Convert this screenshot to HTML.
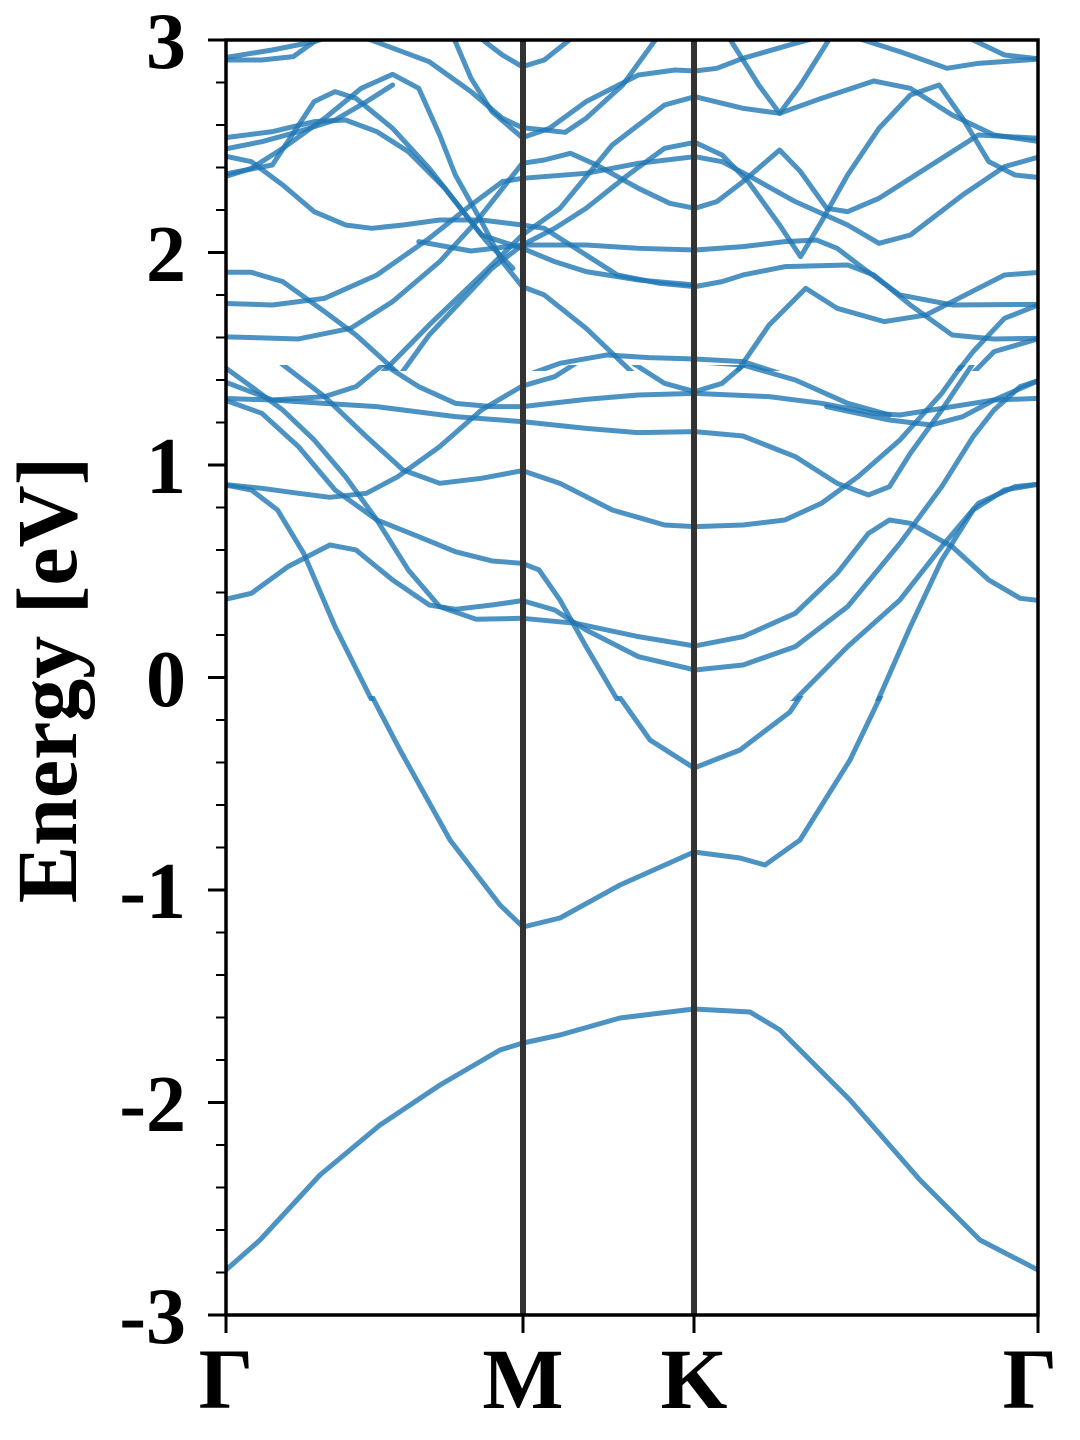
<!DOCTYPE html>
<html><head><meta charset="utf-8"><style>
html,body{margin:0;padding:0;background:#fff;}
svg{display:block;}
.t{font-family:"Liberation Serif","Times New Roman",Times,serif;font-weight:bold;fill:#000;}
polyline{stroke-width:5px;}
</style></head><body>
<svg width="1080" height="1440" viewBox="0 0 1080 1440" xmlns="http://www.w3.org/2000/svg">
<defs>
<clipPath id="c1" clipPathUnits="userSpaceOnUse"><rect x="226" y="40" width="812" height="331"/></clipPath>
<clipPath id="c2" clipPathUnits="userSpaceOnUse"><rect x="226" y="365" width="812" height="336"/></clipPath>
<clipPath id="c3" clipPathUnits="userSpaceOnUse"><rect x="226" y="696" width="812" height="619"/></clipPath>
</defs>
<g fill="none" stroke="#1f77b4" stroke-opacity="0.8" stroke-linejoin="round" stroke-linecap="round">
<g clip-path="url(#c1)">
<g transform="translate(220,35) scale(0.523,0.3333)">
<polyline vector-effect="non-scaling-stroke" points="0,75 80,75 140,65 180,20 200,0"/>
<polyline vector-effect="non-scaling-stroke" points="0,70 100,45 180,20 220,0"/>
<polyline vector-effect="non-scaling-stroke" points="280,10 400,80 480,170 540,250 578,278 620,285 660,292 700,250 770,150 830,20 840,0"/>
<polyline vector-effect="non-scaling-stroke" points="440,0 450,20 480,130 520,230 578,308 630,280 700,200 800,120 870,105 908,108 950,100 1000,70 1100,25 1160,0"/>
<polyline vector-effect="non-scaling-stroke" points="490,0 540,60 578,95 620,75 680,0"/>
<polyline vector-effect="non-scaling-stroke" points="1420,0 1500,60 1568,72"/>
<polyline vector-effect="non-scaling-stroke" points="1200,0 1300,50 1390,100 1450,85 1568,72"/>
<polyline vector-effect="non-scaling-stroke" points="970,0 1030,150 1070,235 1110,150 1170,0"/>
<polyline vector-effect="non-scaling-stroke" points="0,805 100,810 200,790 300,720 400,610 480,510 540,440 578,430 700,415 800,385 908,365 960,380 1020,430 1100,500 1200,570 1260,625 1320,600 1420,480 1500,395 1568,365"/>
<polyline vector-effect="non-scaling-stroke" points="0,905 150,912 250,880 330,800 420,680 490,560 578,385 620,375 670,355 720,390 800,460 860,505 908,520 950,500 1000,440 1070,345 1110,410 1160,520 1200,530 1260,490 1330,420 1450,300 1568,310"/>
<polyline vector-effect="non-scaling-stroke" points="300,1030 400,870 500,720 578,600 650,520 750,330 850,210 908,185 1000,220 1070,235 1150,190 1250,138 1320,160 1400,240 1480,300 1568,320"/>
<polyline vector-effect="non-scaling-stroke" points="908,322 960,360 1010,440 1070,570 1110,665 1150,560 1200,420 1260,280 1320,180 1375,150 1420,250 1470,380 1520,420 1568,428"/>
<polyline vector-effect="non-scaling-stroke" points="908,322 850,340 780,420 700,520 640,580 578,630 520,700 460,800 400,900 340,1030"/>
<polyline vector-effect="non-scaling-stroke" points="0,360 60,380 120,450 180,530 240,570 290,580 350,570 420,555 500,555 578,570 620,580 700,660 760,720 840,745 908,755 960,740 1000,720 1080,695 1200,690 1250,720 1320,810 1400,900 1480,912 1568,910"/>
<polyline vector-effect="non-scaling-stroke" points="380,620 480,648 578,630 700,630 800,640 908,645 1000,635 1080,620 1140,615 1180,640 1230,700 1300,780 1400,810 1568,808"/>
<polyline vector-effect="non-scaling-stroke" points="0,420 100,390 180,200 220,170 260,190 330,280 400,400 450,500 500,600 578,640 640,680 700,710 800,735 908,750"/>
<polyline vector-effect="non-scaling-stroke" points="0,430 60,400 120,340 200,250 270,160 330,118 380,160 420,300 450,420 500,560 540,680 578,755 620,780 700,880 780,1000 800,1030"/>
<polyline vector-effect="non-scaling-stroke" points="0,310 100,290 180,260 240,255 300,290 360,350 430,460 470,540 510,620 560,700"/>
<polyline vector-effect="non-scaling-stroke" points="0,345 80,320 150,290 220,255 280,200 330,150"/>
<polyline vector-effect="non-scaling-stroke" points="0,712 60,712 120,740 200,830 260,900 330,1000 350,1030"/>
<polyline vector-effect="non-scaling-stroke" points="980,1030 1050,870 1120,760 1180,820 1270,860 1350,840 1450,760 1500,720 1568,712"/>
<polyline vector-effect="non-scaling-stroke" points="570,1030 650,985 740,960 820,968 908,972 1000,980 1100,1030"/>
<polyline vector-effect="non-scaling-stroke" points="1568,808 1500,850 1440,950 1400,1030"/>
<polyline vector-effect="non-scaling-stroke" points="1568,910 1480,950 1430,1030"/>
</g>
</g>
<g clip-path="url(#c2)">
<g transform="translate(220,360) scale(0.523,0.3333)">
<polyline vector-effect="non-scaling-stroke" points="0,722 60,700 130,620 210,555 260,570 330,660 400,735 450,748 520,735 578,722 640,750 700,810 800,890 908,930 1000,915 1100,860 1200,740 1300,550 1380,380 1440,230 1480,150 1530,80 1568,60"/>
<polyline vector-effect="non-scaling-stroke" points="-10,0 60,80 120,150 180,240 240,350 300,480 360,630 420,740 490,778 578,775 680,790 800,830 908,858 1000,830 1100,760 1180,640 1240,520 1280,480 1320,490 1400,560 1470,660 1530,715 1568,722"/>
<polyline vector-effect="non-scaling-stroke" points="0,372 80,385 150,400 210,412 280,400 340,350 420,260 500,150 578,78 640,50 700,-10"/>
<polyline vector-effect="non-scaling-stroke" points="0,372 60,390 110,450 160,580 220,800 290,1020 300,1050"/>
<polyline vector-effect="non-scaling-stroke" points="0,115 80,160 150,260 220,390 300,480 380,530 450,575 520,603 578,610 610,630 650,720 700,860 760,1020 770,1050"/>
<polyline vector-effect="non-scaling-stroke" points="0,115 100,120 200,110 260,80 330,-10"/>
<polyline vector-effect="non-scaling-stroke" points="100,-10 200,110 280,230 350,330 420,370 500,355 578,332 650,370 750,450 850,495 908,500 1000,495 1080,480 1150,430 1220,350 1300,240 1380,100 1430,-10"/>
<polyline vector-effect="non-scaling-stroke" points="0,60 100,120 200,130 300,140 450,170 578,185 700,205 800,218 908,215 1000,228 1100,290 1180,370 1240,405 1280,380 1320,280 1380,150 1440,10 1450,-10"/>
<polyline vector-effect="non-scaling-stroke" points="290,-10 380,80 450,130 520,140 578,140 700,118 800,105 908,100 1050,110 1150,130 1250,160 1300,165 1400,140 1480,120 1568,115"/>
<polyline vector-effect="non-scaling-stroke" points="1160,140 1280,180 1360,195 1420,170 1480,120 1568,60"/>
<polyline vector-effect="non-scaling-stroke" points="770,-10 850,70 908,95 960,70 1020,-10"/>
<polyline vector-effect="non-scaling-stroke" points="810,-5 908,5 1000,15 1100,60 1200,130 1280,165"/>
<polyline vector-effect="non-scaling-stroke" points="1080,1050 1200,860 1300,720 1380,560 1450,430 1520,380 1568,372"/>
<polyline vector-effect="non-scaling-stroke" points="1250,1050 1320,800 1380,600 1440,450 1500,390 1568,372"/>
</g>
</g>
<g clip-path="url(#c3)">
<polyline points="366,685 400,750 450,840 500,905 523,927 560,918 620,885 694,852 740,858 765,865 800,840 850,760 886,685"/>
<polyline points="611,685 650,740 694,768 740,750 790,712 808,685"/>
<polyline points="226,1270 260,1240 320,1175 380,1125 440,1085 500,1050 523,1043 560,1035 620,1018 694,1009 750,1012 780,1030 850,1100 920,1180 980,1240 1038,1270"/>
</g>
</g>
<line x1="523" y1="40" x2="523" y2="1315" stroke="#333" stroke-width="6"/>
<line x1="694" y1="40" x2="694" y2="1315" stroke="#333" stroke-width="6"/>
<rect x="226" y="40" width="812" height="1275" fill="none" stroke="#000" stroke-width="3.5"/>
<g stroke="#000" stroke-width="3">
<line x1="208" y1="40" x2="226" y2="40"/><line x1="208" y1="252.5" x2="226" y2="252.5"/><line x1="208" y1="465" x2="226" y2="465"/><line x1="208" y1="677.5" x2="226" y2="677.5"/><line x1="208" y1="890" x2="226" y2="890"/><line x1="208" y1="1102.5" x2="226" y2="1102.5"/><line x1="208" y1="1315" x2="226" y2="1315"/>
<line x1="226" y1="1315" x2="226" y2="1333"/><line x1="523" y1="1315" x2="523" y2="1333"/><line x1="694" y1="1315" x2="694" y2="1333"/><line x1="1038" y1="1315" x2="1038" y2="1333"/>
</g>
<g stroke="#000" stroke-width="2">
<line x1="216" y1="82.5" x2="226" y2="82.5"/><line x1="216" y1="125" x2="226" y2="125"/><line x1="216" y1="167.5" x2="226" y2="167.5"/><line x1="216" y1="210" x2="226" y2="210"/>
<line x1="216" y1="295" x2="226" y2="295"/><line x1="216" y1="337.5" x2="226" y2="337.5"/><line x1="216" y1="380" x2="226" y2="380"/><line x1="216" y1="422.5" x2="226" y2="422.5"/>
<line x1="216" y1="507.5" x2="226" y2="507.5"/><line x1="216" y1="550" x2="226" y2="550"/><line x1="216" y1="592.5" x2="226" y2="592.5"/><line x1="216" y1="635" x2="226" y2="635"/>
<line x1="216" y1="720" x2="226" y2="720"/><line x1="216" y1="762.5" x2="226" y2="762.5"/><line x1="216" y1="805" x2="226" y2="805"/><line x1="216" y1="847.5" x2="226" y2="847.5"/>
<line x1="216" y1="932.5" x2="226" y2="932.5"/><line x1="216" y1="975" x2="226" y2="975"/><line x1="216" y1="1017.5" x2="226" y2="1017.5"/><line x1="216" y1="1060" x2="226" y2="1060"/>
<line x1="216" y1="1145" x2="226" y2="1145"/><line x1="216" y1="1187.5" x2="226" y2="1187.5"/><line x1="216" y1="1230" x2="226" y2="1230"/><line x1="216" y1="1272.5" x2="226" y2="1272.5"/>
</g>
<g class="t" font-family="Liberation Serif, Times New Roman, serif" font-weight="bold" font-size="80" text-anchor="end">
<text x="186" y="68">3</text><text x="186" y="281">2</text><text x="186" y="493">1</text><text x="186" y="706">0</text><text x="186" y="918">-1</text><text x="186" y="1131">-2</text><text x="186" y="1343">-3</text>
</g>
<g class="t" font-family="Liberation Serif, Times New Roman, serif" font-weight="bold" font-size="86" text-anchor="middle">
<text x="226" y="1408">Γ</text><text x="523" y="1408">M</text><text x="694" y="1408">K</text><text x="1030" y="1408">Γ</text>
</g>
<text class="t" font-family="Liberation Serif, Times New Roman, serif" font-weight="bold" font-size="86" text-anchor="middle" transform="translate(76,680) rotate(-90)">Energy [eV]</text>
</svg>
</body></html>
